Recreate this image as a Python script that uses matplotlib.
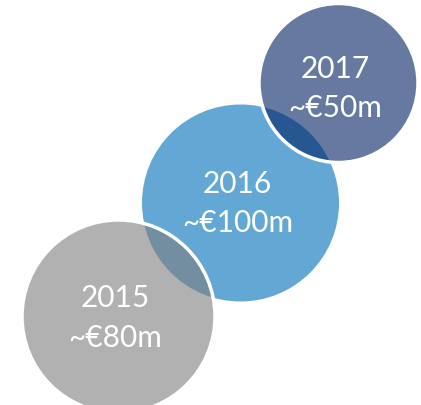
import matplotlib.pyplot as plt
from matplotlib.patches import Circle

# data
years = ["2015", "2016", "2017"]
amounts = ["~€80m", "~€100m", "~€50m"]

# layout (pixels, y down)
cx = [118.5, 240.5, 338.5]
cy = [317.5, 204, 84]
radius = [96.5, 98.5, 79.5]
colors = ["#7d7d7d", "#63a8d5", "#002263"]
alphas = [0.6, 1.0, 0.6]
zorders = [2, 1, 3]
year_base = [307, 193, 78]
amt_base = [347, 232, 117]

fig = plt.figure(figsize=(4.21, 4.06), dpi=100)
ax = fig.add_axes([0, 0, 1, 1])
ax.set_xlim(0, 421)
ax.set_ylim(406, 0)
ax.set_aspect("equal")
ax.axis("off")

for i in range(3):
    ax.add_patch(Circle((cx[i], cy[i]), radius[i], facecolor=colors[i],
                        alpha=alphas[i], edgecolor="none", zorder=zorders[i]))
    if i != 1:
        ax.add_patch(Circle((cx[i], cy[i]), radius[i], facecolor="none",
                            edgecolor="white", linewidth=2.5, zorder=zorders[i]))

for i in range(3):
    ax.text(cx[i] - 3, year_base[i], years[i], color="white", fontsize=21.5,
            family="Lato", ha="center", va="baseline", zorder=10)
    ax.text(cx[i] - 3, amt_base[i], amounts[i], color="white", fontsize=21.5,
            family="Lato", ha="center", va="baseline", zorder=10)

fig.savefig("out.png", dpi=100)
